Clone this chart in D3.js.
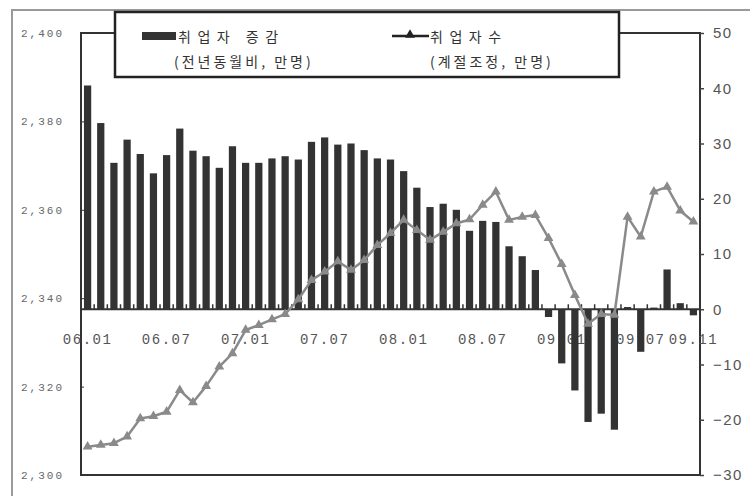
<!DOCTYPE html>
<html>
<head>
<meta charset="utf-8">
<script src="https://cdn.jsdelivr.net/npm/d3@7"></script>
<style>
  html, body { margin: 0; padding: 0; background: #fff; }
  svg { display: block; }
</style>
</head>
<body>
<svg id="chart" width="750" height="496"></svg>
<script>
// Monthly categories, 2006.01 - 2009.11
const months = [
  "06.01","06.02","06.03","06.04","06.05","06.06","06.07","06.08","06.09","06.10","06.11","06.12",
  "07.01","07.02","07.03","07.04","07.05","07.06","07.07","07.08","07.09","07.10","07.11","07.12",
  "08.01","08.02","08.03","08.04","08.05","08.06","08.07","08.08","08.09","08.10","08.11","08.12",
  "09.01","09.02","09.03","09.04","09.05","09.06","09.07","09.08","09.09","09.10","09.11"
];

// 취업자 증감 (전년동월비, 만명) — right axis
const changeYoY = [
  40.5, 33.7, 26.5, 30.7, 28.1, 24.6, 27.9, 32.7, 28.7, 27.7, 25.6, 29.5,
  26.5, 26.5, 27.3, 27.7, 27.1, 30.3, 31.1, 29.8, 30.0, 28.8, 27.3, 27.1,
  25.0, 22.0, 18.5, 19.1, 18.0, 14.2, 16.0, 15.8, 11.4, 9.6, 7.1, -1.4,
  -9.8, -14.7, -20.4, -18.9, -21.8, 0.4, -7.7, 0.3, 7.2, 1.1, -1.1
];

// 취업자수 (계절조정, 만명) — left axis
const employedSA = [
  2306.4, 2306.8, 2307.2, 2308.7, 2312.8, 2313.3, 2314.3, 2319.2, 2316.4, 2320.1, 2324.5, 2327.5,
  2332.8, 2333.9, 2335.2, 2336.4, 2339.7, 2344.1, 2346.0, 2348.3, 2346.4, 2348.6, 2352.0, 2354.7,
  2357.7, 2355.4, 2353.2, 2355.0, 2356.9, 2357.8, 2361.1, 2364.1, 2357.7, 2358.4, 2358.8, 2353.6,
  2347.7, 2340.7, 2334.2, 2336.4, 2336.2, 2358.4, 2353.9, 2364.1, 2365.2, 2359.8, 2357.3
];

const xTickLabels = ["06.01","06.07","07.01","07.07","08.01","08.07","09.01","09.07","09.11"];
const leftTicks = [2300, 2320, 2340, 2360, 2380, 2400];
const rightTicks = [-30, -20, -10, 0, 10, 20, 30, 40, 50];

const legendBar = ["취업자 증감", "(전년동월비, 만명)"];
const legendLine = ["취업자수", "(계절조정, 만명)"];

const svg = d3.select("#chart");
const plot = { left: 81, right: 700, top: 33, bottom: 475 };

const x = d3.scaleBand()
  .domain(months)
  .range([plot.left, plot.right])
  .paddingInner(0.45)
  .paddingOuter(0.225);
const bw = x.bandwidth();
const gap = x.step() - bw;

const yL = d3.scaleLinear().domain([2300, 2400]).range([plot.bottom, plot.top]);
const yR = d3.scaleLinear().domain([-30, 50]).range([plot.bottom, plot.top]);
const y0 = yR(0);

// image border (left and top edges)
svg.append("path")
  .attr("d", `M12,496V10H750`)
  .attr("fill", "none")
  .attr("stroke", "#9a9a9a")
  .attr("stroke-width", 2);

// plot frame
svg.append("rect")
  .attr("x", plot.left).attr("y", plot.top)
  .attr("width", plot.right - plot.left).attr("height", plot.bottom - plot.top)
  .attr("fill", "none")
  .attr("stroke", "#333")
  .attr("stroke-width", 2);

// category labels along the zero line (drawn beneath the bars)
const xAxis = svg.append("g")
  .attr("transform", `translate(0,${y0})`)
  .call(d3.axisBottom(x).tickValues(xTickLabels).tickSize(0).tickPadding(25));
xAxis.select(".domain").remove();
xAxis.selectAll("text")
  .attr("font-family", "'Liberation Mono', 'DejaVu Sans Mono', monospace")
  .attr("font-size", 14)
  .attr("letter-spacing", 1.5)
  .attr("fill", "#555");

// bars: year-on-year change
svg.append("g").selectAll("rect")
  .data(months.map((m, i) => ({ m, v: changeYoY[i] })))
  .join("rect")
  .attr("x", d => x(d.m))
  .attr("width", bw)
  .attr("y", d => Math.min(yR(d.v), y0))
  .attr("height", d => Math.abs(yR(d.v) - y0))
  .attr("fill", "#333");

// zero line with category boundary ticks
svg.append("line")
  .attr("x1", plot.left).attr("x2", plot.right)
  .attr("y1", y0).attr("y2", y0)
  .attr("stroke", "#333").attr("stroke-width", 2);
svg.append("g").selectAll("line")
  .data(months.slice(1))
  .join("line")
  .attr("x1", m => x(m) - gap / 2).attr("x2", m => x(m) - gap / 2)
  .attr("y1", y0 - 5).attr("y2", y0)
  .attr("stroke", "#333").attr("stroke-width", 1.5);

// line: seasonally adjusted employment
const pts = months.map((m, i) => [x(m) + bw / 2, yL(employedSA[i])]);
svg.append("path")
  .attr("d", d3.line()(pts))
  .attr("fill", "none")
  .attr("stroke", "#8a8a8a")
  .attr("stroke-width", 2.5)
  .attr("stroke-linejoin", "round");
const tri = d3.symbol(d3.symbolTriangle, 42);
svg.append("g").selectAll("path")
  .data(pts)
  .join("path")
  .attr("transform", d => `translate(${d[0]},${d[1]})`)
  .attr("d", tri)
  .attr("fill", "#8a8a8a");

// left axis
const leftAxis = svg.append("g")
  .attr("transform", `translate(${plot.left},0)`)
  .call(d3.axisLeft(yL).tickValues(leftTicks).tickFormat(d3.format(",")).tickSize(-3).tickPadding(17));
leftAxis.select(".domain").remove();
leftAxis.selectAll("line").attr("stroke", "#333");
leftAxis.selectAll("text")
  .attr("font-family", "'Liberation Mono', 'DejaVu Sans Mono', monospace")
  .attr("font-size", 11)
  .attr("letter-spacing", 2)
  .attr("fill", "#666");

// right axis
const rightAxis = svg.append("g")
  .attr("transform", `translate(${plot.right},0)`)
  .call(d3.axisRight(yR).tickValues(rightTicks).tickSize(4).tickPadding(9));
rightAxis.select(".domain").remove();
rightAxis.selectAll("line").attr("stroke", "#444").attr("stroke-width", 1.5);
rightAxis.selectAll("text")
  .attr("font-family", "'Liberation Sans', Arial, sans-serif")
  .attr("font-size", 15)
  .attr("letter-spacing", 1.5)
  .attr("fill", "#555");

// legend
const lg = svg.append("g");
lg.append("rect")
  .attr("x", 115).attr("y", 12).attr("width", 504).attr("height", 65)
  .attr("fill", "#fff")
  .attr("stroke", "#222")
  .attr("stroke-width", 2.5);

lg.append("rect")
  .attr("x", 142).attr("y", 32).attr("width", 34).attr("height", 8)
  .attr("fill", "#333");
lg.append("line")
  .attr("x1", 392).attr("x2", 429).attr("y1", 36).attr("y2", 36)
  .attr("stroke", "#222").attr("stroke-width", 2.5);
lg.append("path")
  .attr("transform", "translate(410,35)")
  .attr("d", tri)
  .attr("fill", "#222");

const legendFont = "'Noto Sans CJK KR', sans-serif";
function legendText(lines, x1, x2) {
  lg.append("text")
    .attr("x", x1).attr("y", 42)
    .attr("font-family", legendFont).attr("font-size", 14)
    .attr("letter-spacing", 6.5)
    .attr("fill", "#333")
    .text(lines[0]);
  lg.append("text")
    .attr("x", x2).attr("y", 67)
    .attr("font-family", legendFont).attr("font-size", 14)
    .attr("letter-spacing", 3)
    .attr("fill", "#333")
    .text(lines[1]);
}
legendText(legendBar, 178, 174);
legendText(legendLine, 430, 430);
</script>
</body>
</html>
